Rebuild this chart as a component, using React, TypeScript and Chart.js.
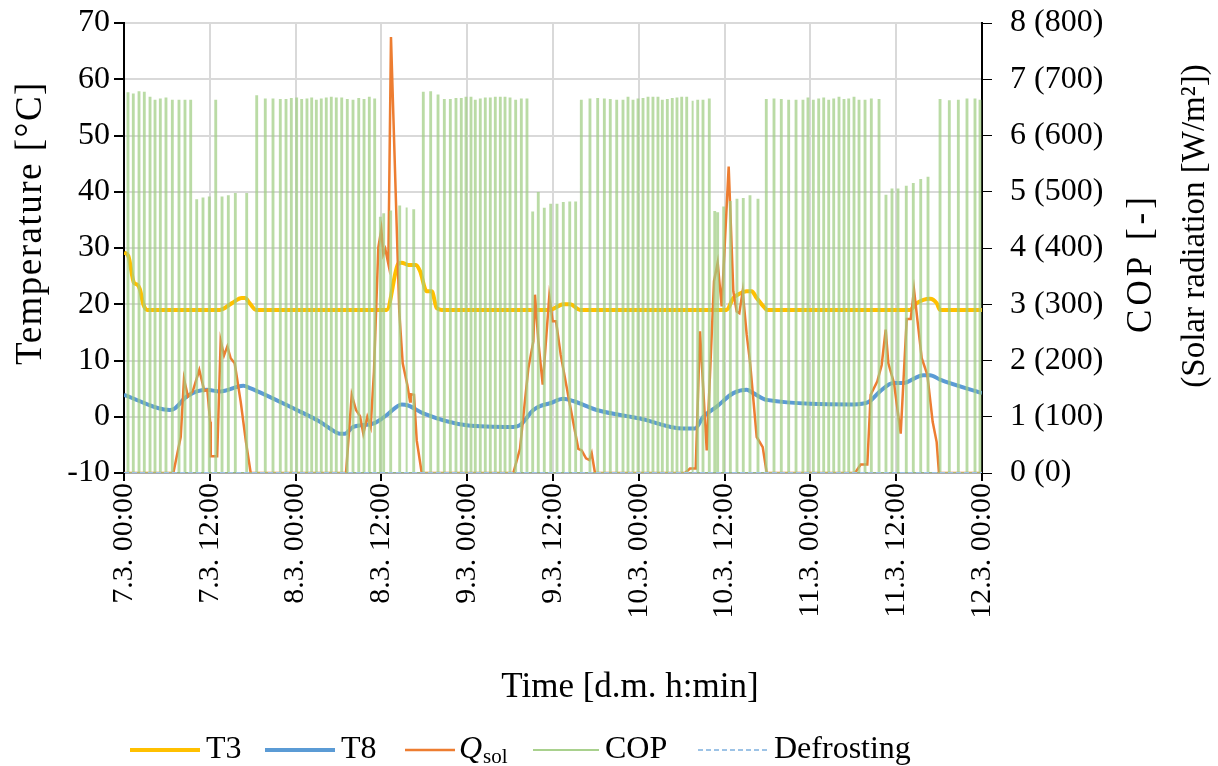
import React, { useEffect, useRef } from "react";
import { Chart, registerables } from "chart.js";

Chart.register(...registerables);

const FONT = "'Liberation Serif', 'Times New Roman', serif";

const tickLabels = [
  "7.3. 00:00", "7.3. 12:00", "8.3. 00:00", "8.3. 12:00", "9.3. 00:00", "9.3. 12:00",
  "10.3. 00:00", "10.3. 12:00", "11.3. 00:00", "11.3. 12:00", "12.3. 00:00",
];

// T3 [°C]
const t3Hours = [0, 0.6, 1.4, 1.86, 2.24, 2.7, 3.26, 13.43, 15.1, 16.46, 16.92, 17.62, 18.46, 36.74, 38.36, 38.84, 39.76, 40.84, 41.4, 42.34, 43.04, 43.74, 44.43, 59.58, 61.44, 62.38, 63.78, 84.29, 85.22, 86.15, 87.09, 87.79, 88.49, 89.65, 89.93, 109.93, 110.87, 112.73, 113.66, 114.13, 120];
const t3Values = [29.2, 28.6, 23.8, 23.5, 22.6, 20.0, 19.0, 19.0, 20.2, 21.1, 21.1, 20.1, 19.0, 19.0, 27.2, 27.4, 27.0, 27.0, 25.9, 22.3, 22.3, 19.3, 19.0, 19.0, 20.0, 20.0, 19.0, 19.0, 21.1, 21.9, 22.3, 22.3, 21.1, 19.3, 19.0, 19.0, 20.2, 21.0, 20.2, 19.0, 19.0];

// T8 [°C]
const t8Hours = [0, 6.43, 7.13, 8.77, 11.57, 13.43, 16.69, 17.62, 24.15, 27.41, 28.81, 30.21, 30.91, 32.07, 34.87, 36.74, 38.84, 39.76, 41.86, 47.93, 54.45, 55.38, 57.25, 58.18, 59.58, 61.44, 62.84, 66.11, 72.17, 78.22, 79.86, 81.02, 82.9, 85.22, 87.09, 88.01, 89.89, 102.0, 104.1, 105.73, 107.59, 108.99, 111.79, 112.73, 114.13, 120];
const t8Values = [3.9, 1.2, 1.5, 3.6, 4.8, 4.5, 5.5, 5.1, 1.2, -0.9, -2.1, -3.0, -3.0, -1.8, -1.2, 0.3, 2.2, 2.0, 0.6, -1.5, -1.8, -1.5, 1.2, 1.9, 2.4, 3.2, 2.8, 1.2, -0.3, -2.1, -2.1, 0.0, 1.8, 4.2, 4.8, 4.2, 3.0, 2.2, 2.6, 4.5, 6.0, 6.0, 7.4, 7.4, 6.6, 4.2];

// Solar radiation Q_sol [W/m2]
const qHours = [
  0, 6.9, 7.93, 8.39, 8.95, 9.61, 10.53, 11.23, 11.65, 12.05, 12.13, 13.03, 13.52, 13.99, 14.45, 14.92, 15.48, 16.32, 17.06, 17.72,
  31.05, 31.85, 32.45, 33.01, 33.47, 34.03, 34.5, 34.96, 35.57, 35.99, 36.27, 36.55, 36.97, 37.34, 38.5, 38.98, 39.62, 40.0, 40.1, 40.56, 40.94, 41.64,
  54.45, 55.38, 56.55, 57.25, 57.48, 57.95, 58.56, 59.48, 59.96, 60.42, 61.08, 62.28, 63.54, 64.01, 64.62, 65.08, 65.41, 65.87,
  78.46, 79.16, 79.96, 80.56, 81.5, 82.52, 83.03, 83.59, 84.57, 85.22, 85.69, 86.06, 86.53, 87.09, 87.55, 88.49, 89.33, 89.89,
  102.24, 103.03, 103.96, 104.43, 105.36, 105.97, 106.53, 106.9, 107.69, 108.63, 109.47, 110.03, 110.49, 111.57, 112.35, 113.1, 113.66, 113.98, 120,
];
const qValues = [
  0, 0, 64, 167, 136, 145, 183, 146, 148, 91, 30, 30, 235, 209, 225, 204, 195, 127, 55, 0,
  0, 139, 112, 101, 70, 100, 82, 180, 401, 433, 389, 398, 372, 775, 287, 195, 157, 127, 140, 139, 58, 0,
  0, 43, 186, 234, 317, 234, 157, 314, 270, 270, 210, 127, 43, 40, 26, 23, 35, 0,
  0, 8, 8, 252, 40, 341, 374, 296, 545, 323, 287, 284, 323, 246, 198, 64, 46, 0,
  0, 15, 15, 139, 163, 192, 255, 195, 160, 70, 274, 274, 326, 204, 175, 91, 55, 0, 0,
];

// COP [-] (heat pump cycles)
const copHours = [
  0.56, 1.3, 2.1, 2.84, 3.64, 4.34, 5.08, 5.87, 6.76, 7.69, 8.53, 9.33, 10.17, 11.05, 11.93, 12.83, 13.71, 14.59, 15.57, 17.16,
  18.56, 19.76, 20.84, 21.86, 22.66, 23.4, 24.15, 24.85, 25.59, 26.25, 26.9, 27.59, 28.29, 28.99, 29.69, 30.45, 31.23, 32.03, 32.83, 33.57,
  34.31, 35.06, 35.85, 36.32, 37.3, 38.56, 39.51, 40.52, 41.86, 42.89, 43.92, 44.8, 45.64, 46.43, 47.17, 47.83, 48.53, 49.13, 49.83, 50.53,
  51.23, 51.93, 52.63, 53.29, 53.99, 54.78, 55.57, 56.36, 57.16, 57.94, 58.78, 59.68, 60.56, 61.44, 62.34, 63.17, 63.96, 65.17, 66.25, 67.18,
  68.01, 68.91, 69.79, 70.49, 71.19, 71.89, 72.59, 73.29, 73.98, 74.68, 75.29, 75.99, 76.68, 77.34, 78.0, 78.7, 79.51, 80.24, 80.98, 81.86,
  82.62, 83.03, 83.87, 84.8, 85.73, 86.61, 87.55, 88.67, 89.83, 90.91, 91.93, 92.96, 93.99, 94.96, 95.66, 96.41, 97.16, 97.86, 98.56, 99.26,
  100.0, 100.7, 101.36, 102.1, 102.8, 103.64, 104.52, 105.6, 106.57, 107.41, 108.25, 109.41, 110.39, 111.43, 112.45, 114.13, 115.43, 116.69, 117.9, 119.02,
  119.72,
];
const copValues = [
  6.75, 6.73, 6.77, 6.76, 6.67, 6.62, 6.64, 6.66, 6.62, 6.62, 6.62, 6.62, 4.85, 4.88, 4.9, 6.62, 4.9, 4.92, 4.96, 4.96,
  6.7, 6.64, 6.64, 6.63, 6.63, 6.65, 6.66, 6.63, 6.64, 6.66, 6.62, 6.64, 6.66, 6.67, 6.66, 6.66, 6.63, 6.62, 6.65, 6.63,
  6.67, 6.64, 4.54, 4.6, 4.65, 4.74, 4.72, 4.67, 6.76, 6.77, 6.71, 6.63, 6.63, 6.65, 6.65, 6.67, 6.67, 6.62, 6.64, 6.66,
  6.66, 6.67, 6.67, 6.67, 6.66, 6.62, 6.64, 6.64, 4.63, 4.98, 4.7, 4.77, 4.77, 4.8, 4.81, 4.81, 6.62, 6.64, 6.65, 6.64,
  6.63, 6.62, 6.62, 6.67, 6.62, 6.64, 6.65, 6.67, 6.67, 6.67, 6.62, 6.63, 6.65, 6.66, 6.67, 6.67, 6.62, 6.62, 6.62, 6.64,
  4.64, 4.62, 4.72, 4.82, 4.86, 4.87, 4.92, 4.86, 6.63, 6.64, 6.63, 6.62, 6.62, 6.62, 6.66, 6.62, 6.64, 6.66, 6.62, 6.64,
  6.67, 6.63, 6.64, 6.67, 6.62, 6.62, 6.64, 6.63, 4.93, 5.04, 5.04, 5.09, 5.14, 5.21, 5.25, 6.63, 6.61, 6.62, 6.64, 6.64,
  6.62,
];

// Defrosting (no events)
const defrostHours = [0, 120];
const defrostValues = [0, 0];

const COLORS = {
  t3: "#FFC000",
  t8: "#5B9BD5",
  q: "#ED7D31",
  cop: "rgba(160, 205, 130, 0.72)",
  defrost: "#9DC3E6",
};

const legendItems = [
  { label: "T3", color: COLORS.t3, width: 4, dash: [] as number[], x0: 130, len: 70 },
  { label: "T8", color: COLORS.t8, width: 4, dash: [] as number[], x0: 265, len: 70 },
  { label: "Q", sub: "sol", color: COLORS.q, width: 2.5, dash: [] as number[], x0: 405, len: 50 },
  { label: "COP", color: "#A9D18E", width: 2, dash: [] as number[], x0: 533, len: 66 },
  { label: "Defrosting", color: COLORS.defrost, width: 2, dash: [5, 3], x0: 698, len: 70 },
];

function rotatedText(ctx: CanvasRenderingContext2D, text: string, x: number, y: number, size: number, spacing: number) {
  ctx.save();
  ctx.font = `${size}px ${FONT}`;
  (ctx as any).letterSpacing = `${spacing}px`;
  ctx.textAlign = "center";
  ctx.textBaseline = "middle";
  ctx.translate(x, y);
  ctx.rotate(-Math.PI / 2);
  ctx.fillText(text, 0, 0);
  ctx.restore();
}

const overlayPlugin = {
  id: "overlay",
  afterDraw(chart: any) {
    const ctx = chart.ctx as CanvasRenderingContext2D;
    ctx.save();
    ctx.fillStyle = "#000";

    // axis titles
    rotatedText(ctx, "Temperature [°C]", 31, 223, 37, 1.5);
    rotatedText(ctx, "COP [-]", 1142, 263, 35, 4);
    rotatedText(ctx, "(Solar radiation [W/m²])", 1195, 226, 33, 0);

    ctx.font = `35px ${FONT}`;
    ctx.textAlign = "center";
    ctx.textBaseline = "middle";
    ctx.fillText("Time [d.m. h:min]", 630, 688);

    // legend
    const ly = 750;
    ctx.font = `32px ${FONT}`;
    ctx.textAlign = "left";
    legendItems.forEach((it) => {
      ctx.save();
      ctx.strokeStyle = it.color;
      ctx.lineWidth = it.width;
      ctx.setLineDash(it.dash);
      ctx.beginPath();
      ctx.moveTo(it.x0, ly);
      ctx.lineTo(it.x0 + it.len, ly);
      ctx.stroke();
      ctx.restore();
      const tx = it.x0 + it.len + 6;
      if (it.sub) {
        ctx.font = `italic 32px ${FONT}`;
        ctx.fillText(it.label, tx - 2, ly);
        const w = ctx.measureText(it.label).width;
        ctx.font = `21px ${FONT}`;
        ctx.fillText(it.sub, tx - 2 + w + 1, ly + 7);
        ctx.font = `32px ${FONT}`;
      } else {
        ctx.fillText(it.label, tx, ly);
      }
    });
    ctx.restore();
  },
};

export default function App() {
  const ref = useRef<HTMLCanvasElement | null>(null);

  useEffect(() => {
    if (!ref.current) return;
    const toXY = (xs: number[], ys: number[], k = 1) => xs.map((x, i) => ({ x, y: ys[i] * k }));
    const copData: { x: number; y: number }[] = [{ x: 0, y: 0 }];
    const hw = 0.06;
    copHours.forEach((t, i) => {
      copData.push({ x: t - hw, y: 0 }, { x: t - hw, y: copValues[i] }, { x: t + hw, y: copValues[i] }, { x: t + hw, y: 0 });
    });
    copData.push({ x: 120, y: 0 });

    const font = (size: number) => ({ family: FONT, size });
    const vFit = (w: number) => (s: any) => {
      s.width = w;
      s.paddingTop = 0;
      s.paddingBottom = 0;
    };

    const chart = new Chart(ref.current, {
      type: "line",
      data: {
        datasets: [
          {
            label: "Defrosting",
            data: toXY(defrostHours, defrostValues),
            yAxisID: "y1",
            borderColor: COLORS.defrost,
            borderWidth: 2,
            borderDash: [5, 3],
            pointRadius: 0,
            order: 0,
          },
          {
            label: "COP",
            data: copData,
            yAxisID: "y1",
            borderColor: COLORS.cop,
            borderWidth: 2,
            pointRadius: 0,
            tension: 0,
            order: 1,
          },
          {
            label: "Q_sol",
            data: toXY(qHours, qValues, 0.01),
            yAxisID: "y1",
            borderColor: COLORS.q,
            borderWidth: 2.5,
            pointRadius: 0,
            tension: 0,
            order: 2,
          },
          {
            label: "T8",
            data: toXY(t8Hours, t8Values),
            yAxisID: "y",
            borderColor: COLORS.t8,
            borderWidth: 4,
            pointRadius: 0,
            cubicInterpolationMode: "monotone",
            order: 3,
          },
          {
            label: "T3",
            data: toXY(t3Hours, t3Values),
            yAxisID: "y",
            borderColor: COLORS.t3,
            borderWidth: 4,
            pointRadius: 0,
            cubicInterpolationMode: "monotone",
            order: 4,
          },
        ],
      },
      options: {
        animation: false,
        responsive: false,
        devicePixelRatio: 1,
        layout: { padding: { left: 0, right: 0, top: 23, bottom: 57 } },
        plugins: { legend: { display: false }, tooltip: { enabled: false } },
        scales: {
          x: {
            type: "linear",
            position: "bottom",
            min: 0,
            max: 120,
            ticks: {
              stepSize: 12,
              autoSkip: false,
              maxRotation: 90,
              minRotation: 90,
              color: "#000",
              font: font(30),
              padding: 2,
              callback: (v: any) => tickLabels[Math.round(Number(v) / 12)] ?? "",
            },
            grid: { color: "#d9d9d9", lineWidth: 2, tickColor: "#000", tickLength: 8 },
            border: { color: "#7f7f7f", width: 1.5 },
            title: { display: false },
            afterFit: (s: any) => { s.height = 236; },
          },
          y: {
            position: "left",
            min: -10,
            max: 70,
            ticks: { stepSize: 10, color: "#000", font: font(32), padding: 4 },
            grid: { color: "#d9d9d9", lineWidth: 2, tickColor: "#000", tickLength: 10 },
            border: { color: "#000", width: 2 },
            title: { display: false },
            afterFit: vFit(124),
          },
          y1: {
            position: "right",
            min: 0,
            max: 8,
            ticks: {
              stepSize: 1,
              color: "#000",
              font: font(32),
              padding: 18,
              callback: (v: any) => `${v} (${Number(v) * 100})`,
            },
            grid: { drawOnChartArea: false, tickColor: "#000", tickLength: 10 },
            border: { color: "#000", width: 2 },
            afterFit: vFit(236),
          },
        },
      },
      plugins: [overlayPlugin],
    } as any);

    return () => chart.destroy();
  }, []);

  return (
    <div style={{ position: "absolute", left: 0, top: 0, width: 1218, height: 766, background: "#fff" }}>
      <canvas ref={ref} width={1218} height={766} style={{ display: "block" }} />
    </div>
  );
}
